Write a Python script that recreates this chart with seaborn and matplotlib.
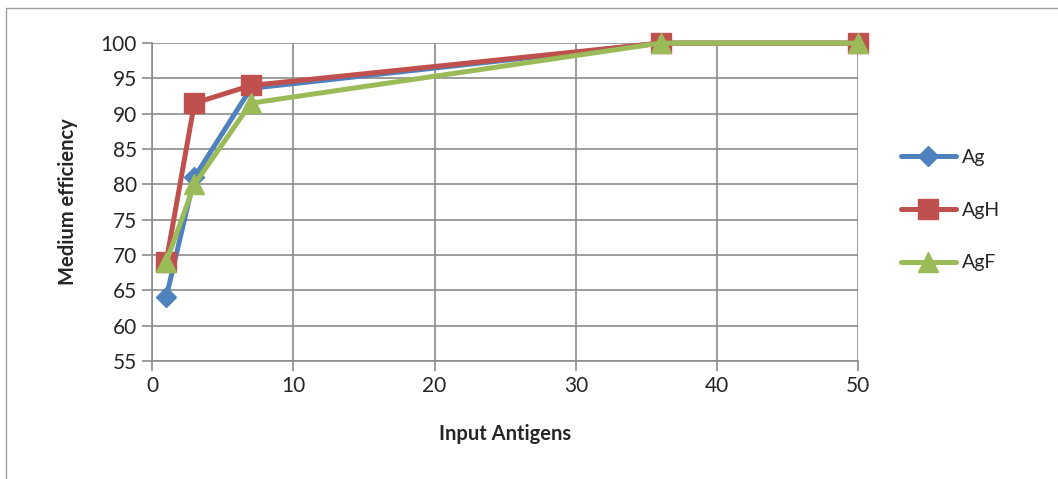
import matplotlib
matplotlib.use("Agg")
import matplotlib.pyplot as plt
from matplotlib.lines import Line2D
import seaborn as sns
import pandas as pd

x_vals = [1, 3, 7, 36, 50]
ag = [64, 81, 93.6, 100, 100]
agh = [69, 91.5, 94, 100, 100]
agf = [69, 80, 91.5, 100, 100]
series_names = ["Ag", "AgH", "AgF"]
x_ticks = [0, 10, 20, 30, 40, 50]
y_ticks = [55, 60, 65, 70, 75, 80, 85, 90, 95, 100]

sns.set_theme(style="white")
plt.rcParams['font.family'] = ['Lato', 'DejaVu Sans']

df = pd.DataFrame({
    "x": x_vals * 3,
    "y": ag + agh + agf,
    "series": [s for s in series_names for _ in x_vals],
})

colors = {"Ag": "#4F81BD", "AgH": "#C0504D", "AgF": "#9BBB59"}
markers = {"Ag": "D", "AgH": "s", "AgF": "^"}
msizes = {"Ag": 10, "AgH": 14, "AgF": 15}

fig = plt.figure(figsize=(10.58, 4.79), dpi=100)
ax = fig.add_axes([0.1437, 0.2463, 0.8113 - 0.1437, 0.910 - 0.2463])

for name in series_names:
    sub = df[df["series"] == name]
    sns.lineplot(data=sub, x="x", y="y", ax=ax, color=colors[name],
                 marker=markers[name], markersize=msizes[name],
                 markeredgecolor=colors[name], markeredgewidth=1,
                 linewidth=3.6, label=name, sort=False, zorder=3, clip_on=False)

ax.set_xlim(0, 50)
ax.set_ylim(55, 100)
ax.set_xticks(x_ticks)
ax.set_yticks(y_ticks)
ax.grid(True, color="#8c8c8c", linewidth=1.2)
ax.set_axisbelow(True)
for side in ["top", "right"]:
    ax.spines[side].set_visible(False)
for side in ["left", "bottom"]:
    ax.spines[side].set_color("#8c8c8c")
    ax.spines[side].set_linewidth(1.2)
ax.tick_params(axis="both", which="major", length=7, width=1.2, color="#8c8c8c",
               labelsize=15, bottom=True, left=True, pad=4)
ax.set_xlabel("Input Antigens", fontsize=14.5, fontweight="bold", labelpad=20)
ax.set_ylabel("Medium efficiency", fontsize=14.5, fontweight="bold", labelpad=16)

leg = ax.legend(loc="center left", bbox_to_anchor=(1.035, 0.475), frameon=False,
                fontsize=14, labelspacing=1.85, handlelength=2.85, handletextpad=0.3)

fig.add_artist(Line2D([6 / 1058, 1.0], [1 - 8 / 479, 1 - 8 / 479],
                      transform=fig.transFigure, color="#a0a0a0", linewidth=1))
fig.add_artist(Line2D([6 / 1058, 6 / 1058], [0, 1 - 8 / 479],
                      transform=fig.transFigure, color="#a0a0a0", linewidth=1))

fig.savefig("out.png", dpi=100)
